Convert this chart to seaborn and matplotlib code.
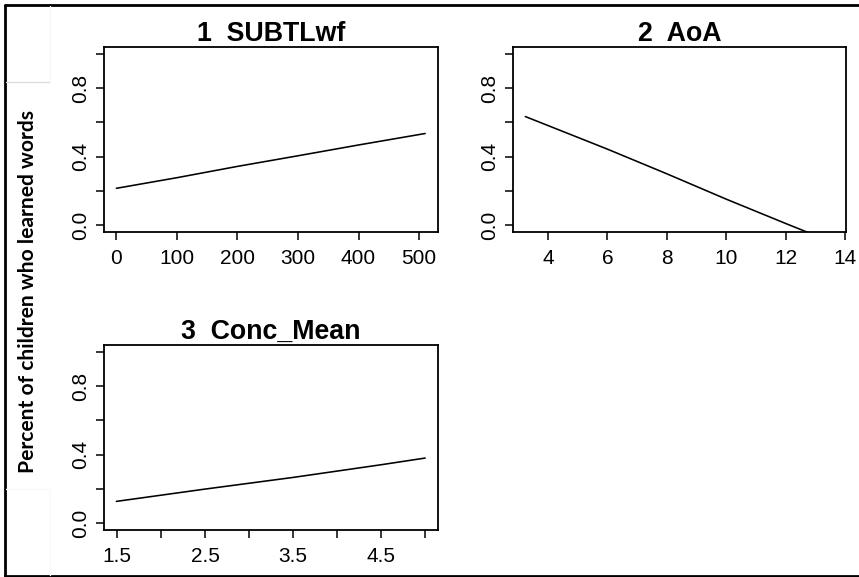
import numpy as np
import pandas as pd
import matplotlib
matplotlib.use("Agg")
import matplotlib.pyplot as plt
from matplotlib.lines import Line2D
import seaborn as sns

# Fitted effect curves: predictor value vs. predicted proportion of children who learned words
subtl_x = [0, 100, 200, 300, 400, 510]
subtl_y = [0.215, 0.277, 0.343, 0.405, 0.468, 0.535]

aoa_x = [3.24, 6, 8, 10, 12, 13.62]
aoa_y = [0.634, 0.444, 0.300, 0.152, 0.010, -0.103]

conc_x = [1.49, 2.5, 3.5, 4.5, 5.0]
conc_y = [0.127, 0.199, 0.267, 0.341, 0.380]

panel_titles = ["1  SUBTLwf", "2  AoA", "3  Conc_Mean"]
y_label = "Percent of children who learned words"

y_ticks = [0.0, 0.2, 0.4, 0.6, 0.8, 1.0]
y_ticklabels = ["0.0", "", "0.4", "", "0.8", ""]

subtl_ticks = [0, 100, 200, 300, 400, 500]
subtl_ticklabels = ["0", "100", "200", "300", "400", "500"]
aoa_ticks = [4, 6, 8, 10, 12, 14]
aoa_ticklabels = ["4", "6", "8", "10", "12", "14"]
conc_ticks = [1.5, 2.0, 2.5, 3.0, 3.5, 4.0, 4.5, 5.0]
conc_ticklabels = ["1.5", "", "2.5", "", "3.5", "", "4.5", ""]

sns.set_theme(style="white")
plt.rcParams["font.family"] = ["Liberation Sans", "DejaVu Sans"]
plt.rcParams["text.color"] = "black"
plt.rcParams["axes.titlecolor"] = "black"
plt.rcParams["axes.edgecolor"] = "black"
plt.rcParams["axes.linewidth"] = 1.3
plt.rcParams["xtick.color"] = "black"
plt.rcParams["ytick.color"] = "black"

W, H = 859, 577
fig = plt.figure(figsize=(W / 100, H / 100), dpi=100)


def px_axes(left, top, right, bottom):
    return fig.add_axes([left / W, 1 - bottom / H, (right - left) / W, (bottom - top) / H])


def pad_range(lo, hi):
    d = (hi - lo) * 0.04
    return lo - d, hi + d


panels = [
    (px_axes(104, 47, 437.5, 232), subtl_x, subtl_y, subtl_ticks, subtl_ticklabels),
    (px_axes(513, 47, 846, 232), aoa_x, aoa_y, aoa_ticks, aoa_ticklabels),
    (px_axes(104, 345, 437.5, 530), conc_x, conc_y, conc_ticks, conc_ticklabels),
]

for (ax, xs, ys, xt, xtl), title in zip(panels, panel_titles):
    df = pd.DataFrame({"x": xs, "y": ys})
    sns.lineplot(data=df, x="x", y="y", ax=ax, color="black", linewidth=1.15,
                 estimator=None, sort=True)
    ax.set_xlim(*pad_range(min(xs), max(xs)))
    ax.set_ylim(-0.04, 1.04)
    ax.set_xticks(xt)
    ax.set_xticklabels(xtl)
    ax.set_yticks(y_ticks)
    ax.set_yticklabels(y_ticklabels, rotation=90, va="center")
    ax.tick_params(axis="both", direction="out", length=5.5, width=1.1,
                   labelsize=15, bottom=True, left=True, labelcolor="black")
    ax.tick_params(axis="x", pad=6.5)
    ax.tick_params(axis="y", pad=4.5)
    ax.set_xlabel("")
    ax.set_ylabel("")
    ax.set_title(title, fontsize=19.3, fontweight="bold", pad=4.5, color="black")
    for s in ax.spines.values():
        s.set_visible(True)
        s.set_linewidth(1.3)

fig.text(28 / W, 1 - 292 / H, y_label, rotation=90, ha="center", va="center",
         fontsize=15.1, fontweight="bold", color="black",
         family=["Lato", "DejaVu Sans"])

# Frame around the figure (top, left, bottom)
frame_kw = dict(transform=fig.transFigure, color="black", linewidth=2.0)
fig.add_artist(Line2D([5 / W, 1.0], [1 - 4.5 / H, 1 - 4.5 / H], **frame_kw))
fig.add_artist(Line2D([5 / W, 5 / W], [1 - 4.5 / H, 1 - 576 / H], **frame_kw))
fig.add_artist(Line2D([5 / W, 1.0], [1 - 576 / H, 1 - 576 / H], **frame_kw))

# Faint panel edges at the left margin
faint_kw = dict(transform=fig.transFigure, linewidth=1.0)
fig.add_artist(Line2D([6 / W, 50 / W], [1 - 82 / H, 1 - 82 / H], color="#dcdcdc", **faint_kw))
fig.add_artist(Line2D([50 / W, 50 / W], [1 - 6 / H, 1 - 82 / H], color="#f7f7f7", **faint_kw))
fig.add_artist(Line2D([6 / W, 50 / W], [1 - 489 / H, 1 - 489 / H], color="#f9f9f9", **faint_kw))
fig.add_artist(Line2D([50 / W, 50 / W], [1 - 489 / H, 1 - 575 / H], color="#f9f9f9", **faint_kw))

fig.savefig("out.png", dpi=100)
